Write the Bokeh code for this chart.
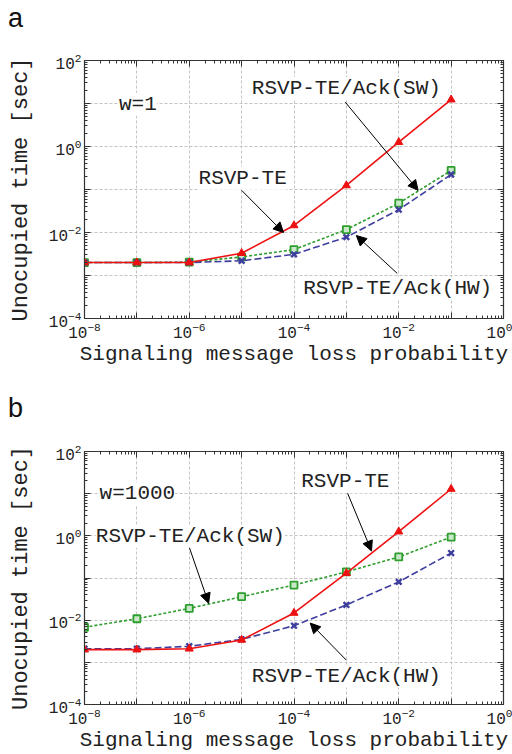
from bokeh.plotting import figure
from bokeh.models import LogAxis, FixedTicker, Label, Arrow, NormalHead, Div, ColumnDataSource
from bokeh.layouts import column
from bokeh.embed import file_html
from bokeh.resources import INLINE

# ---------------- data ----------------
loss_prob = [1e-8, 1e-7, 1e-6, 1e-5, 1e-4, 1e-3, 1e-2, 1e-1]

a_rsvp = [0.002, 0.002, 0.002, 0.0033, 0.0146, 0.124, 1.26, 12.3]
a_sw = [0.002, 0.002, 0.00205, 0.0027, 0.0040, 0.0117, 0.048, 0.277]
a_hw = [0.002, 0.002, 0.002, 0.0022, 0.0031, 0.0078, 0.034, 0.223]

b_rsvp = [0.002, 0.002, 0.0021, 0.0034, 0.0148, 0.13, 1.26, 12.9]
b_sw = [0.0068, 0.0108, 0.019, 0.036, 0.068, 0.14, 0.316, 0.93]
b_hw = [0.0021, 0.0021, 0.0024, 0.0035, 0.0074, 0.023, 0.081, 0.39]

x_decades = list(range(-8, 1))
x_labeled = [-8, -6, -4, -2, 0]
y_decades = list(range(-4, 3))
y_labeled = [-4, -2, 0, 2]

x_title = "Signaling message loss probability"
y_title = "Unocupied time [sec]"

# annotation texts (log10 x, log10 y of text centre)
a_notes = [("w=1", -6.98, 0.98), ("RSVP-TE/Ack(SW)", -3.0, 1.35),
           ("RSVP-TE", -4.98, -0.74), ("RSVP-TE/Ack(HW)", -2.02, -3.3)]
a_arrows = [(-3.02, 1.03, -1.63, -1.02), (-5.0, -1.02, -4.2, -2.0),
            (-2.03, -2.95, -2.81, -2.07)]
b_notes = [("w=1000", -6.99, 1.0), ("RSVP-TE/Ack(SW)", -5.98, -0.01),
           ("RSVP-TE", -3.02, 1.28), ("RSVP-TE/Ack(HW)", -3.0, -3.33)]
b_arrows = [(-6.0, -0.27, -5.63, -1.6), (-2.98, 1.02, -2.52, -0.36),
            (-3.0, -2.95, -3.69, -2.07)]

MONO = "Liberation Mono"
RED = "#ee1111"
GREEN = "#2e9e2e"
BLUE = "#3e3e9e"


def ticks_for(decades, labeled):
    major = [10.0 ** d for d in decades]
    minor = [m * 10.0 ** d for d in decades[:-1] for m in range(2, 10)]
    overrides = {10.0 ** d: " " for d in decades if d not in labeled}
    return major, minor, overrides


def style_axis(ax, major, minor, overrides, show_labels):
    ax.ticker = FixedTicker(ticks=major, minor_ticks=minor)
    ax.major_tick_in = 6
    ax.major_tick_out = 0
    ax.minor_tick_in = 3
    ax.minor_tick_out = 0
    ax.major_tick_line_color = "#333333"
    ax.minor_tick_line_color = "#333333"
    ax.axis_line_color = "#333333"
    if show_labels:
        ax.major_label_overrides = overrides
        ax.major_label_text_font = MONO
        ax.major_label_text_font_size = "16px"
        ax.major_label_text_color = "#222222"
        ax.major_label_standoff = 3
    else:
        ax.major_label_text_font_size = "1px"
        ax.major_label_text_alpha = 0
        ax.major_label_standoff = 0


def make_panel(height, btop, bbot, rsvp, sw, hw, notes, arrows):
    p = figure(width=512, height=height, x_axis_type="log", y_axis_type="log",
               x_range=(1e-8, 1.0), y_range=(1e-4, 1e2),
               output_backend="svg", toolbar_location=None,
               min_border_left=84, min_border_right=9,
               min_border_top=btop, min_border_bottom=bbot)
    p.background_fill_color = "white"
    p.border_fill_color = "white"
    p.outline_line_color = "#222222"
    p.outline_line_width = 1.2

    xmaj, xmin, xov = ticks_for(x_decades, x_labeled)
    ymaj, ymin, yov = ticks_for(y_decades, y_labeled)

    style_axis(p.xaxis[0], xmaj, xmin, xov, True)
    style_axis(p.yaxis[0], ymaj, ymin, yov, True)
    p.xaxis[0].axis_label = x_title
    p.yaxis[0].axis_label = y_title
    for ax in (p.xaxis[0], p.yaxis[0]):
        ax.axis_label_text_font = MONO
        ax.axis_label_text_font_style = "normal"
        ax.axis_label_text_color = "#222222"
    p.xaxis[0].axis_label_text_font_size = "21px"
    p.yaxis[0].axis_label_text_font_size = "22px"
    p.xaxis[0].axis_label_standoff = 0
    p.yaxis[0].axis_label_standoff = 12

    top = LogAxis()
    style_axis(top, xmaj, xmin, xov, False)
    p.add_layout(top, "above")
    right = LogAxis()
    style_axis(right, ymaj, ymin, yov, False)
    p.add_layout(right, "right")

    p.xgrid.ticker = FixedTicker(ticks=xmaj)
    p.ygrid.ticker = FixedTicker(ticks=ymaj)
    for g in (p.xgrid, p.ygrid):
        g.grid_line_color = "#c4c4c4"
        g.grid_line_dash = "3 2"
        g.grid_line_width = 1

    src = ColumnDataSource(dict(x=loss_prob, rsvp=rsvp, sw=sw, hw=hw))
    p.line("x", "sw", source=src, color=GREEN, line_width=1.6, line_dash="3 2")
    p.scatter("x", "sw", source=src, marker="square", size=7, line_color=GREEN,
              fill_color="#c8e8c8", line_width=1.8)
    p.line("x", "hw", source=src, color=BLUE, line_width=1.6, line_dash="7 3")
    p.scatter("x", "hw", source=src, marker="x", size=8, line_color=BLUE, line_width=2.4)
    p.line("x", "rsvp", source=src, color=RED, line_width=1.6)
    p.scatter("x", "rsvp", source=src, marker="triangle", size=8, color=RED)

    for (x0, y0, x1, y1) in arrows:
        p.add_layout(Arrow(x_start=10 ** x0, y_start=10 ** y0, x_end=10 ** x1, y_end=10 ** y1,
                           line_color="black", line_width=1,
                           end=NormalHead(size=10, fill_color="black", line_color="black")))
    for (txt, lx, ly) in notes:
        p.add_layout(Label(x=10 ** lx, y=10 ** ly, text=txt, text_font=MONO,
                           text_font_size="21px", text_color="#222222",
                           text_align="center", text_baseline="middle",
                           background_fill_color="white"))
    return p


def panel_letter(letter):
    html = ("<div style='padding-top:5px;padding-left:8px;font-family:\"Liberation Sans\";"
            "font-size:27px;line-height:26px;color:#111111'>%s</div>" % letter)
    return Div(text=html, width=512, height=34, margin=0)


pa = make_panel(356, 26, 72, a_rsvp, a_sw, a_hw, a_notes, a_arrows)
pb = make_panel(330, 27, 46, b_rsvp, b_sw, b_hw, b_notes, b_arrows)

layout = column(panel_letter("a"), pa, panel_letter("b"), pb, spacing=0)

open("out.html", "w").write(file_html(layout, INLINE))
